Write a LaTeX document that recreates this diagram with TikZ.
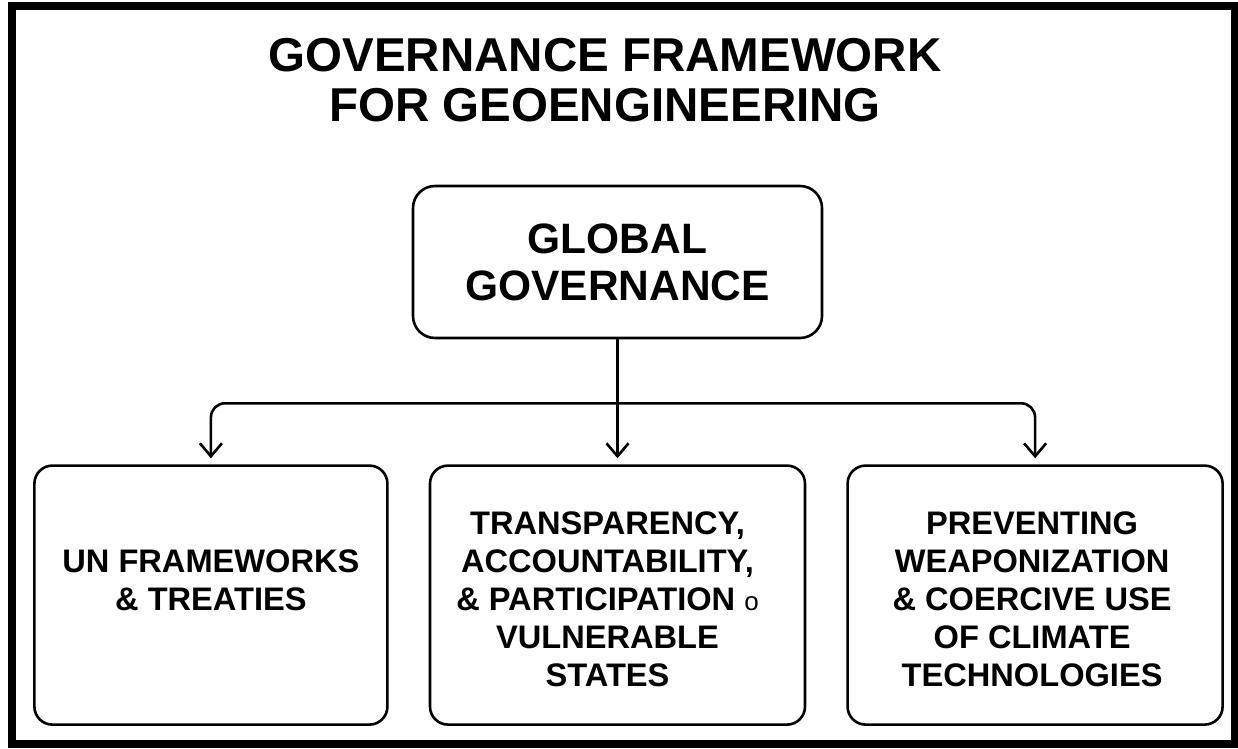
\documentclass[tikz,border=0pt]{standalone}
\usepackage{fontspec}
\setmainfont{Liberation Sans}
\usetikzlibrary{arrows.meta, calc, positioning}

\begin{document}
\begin{tikzpicture}[x=1pt, y=1pt, >={Straight Barb[length=13pt, width=22pt]},
	node distance=125pt and 40pt]
    \tikzstyle{box} = [draw, line width=2.6pt, rounded corners=18pt,
	minimum height=259pt, inner sep=0pt]
    \tikzstyle{boxtext} = [align=center, font=\fontsize{32.6}{38}\selectfont\bfseries]
    \tikzstyle{link} = [line width=2.6pt]

	\useasboundingbox (0,0) rectangle (1238,748);
	% frame round the page
	\draw[line width=8pt] (12,4) rectangle (1235,742);

	\node[align=center, font=\fontsize{47.5}{50}\selectfont\bfseries] (title) at (605,668)
		{GOVERNANCE FRAMEWORK\\FOR GEOENGINEERING};

	\node[box, rounded corners=22pt, minimum width=409pt, minimum height=152pt,
		align=center, font=\fontsize{42.5}{47}\selectfont\bfseries] (gg) at (617.5,486)
		{GLOBAL\\GOVERNANCE};

	% the three branches
	\node[box, minimum width=375pt, below=of gg] (tav) {};
	\node[box, minimum width=353pt, left=of tav] (un) {};
	\node[box, minimum width=375pt, right=of tav] (pr) {};

	\node[boxtext] (untext) at ($(un)+(0,15)$) {UN FRAMEWORKS\\\& TREATIES};
	\node[boxtext] (tavtext) at ($(tav)+(-10,-4)$)
		{TRANSPARENCY,\\ACCOUNTABILITY,\\\& PARTICIPATION {\mdseries\fontsize{26}{26}\selectfont o}\\VULNERABLE\\STATES};
	\node[boxtext] (prtext) at ($(pr)+(-3,-4)$)
		{PREVENTING\\WEAPONIZATION\\\& COERCIVE USE\\OF CLIMATE\\TECHNOLOGIES};

	\coordinate (split) at ($(gg.south)+(0,-64)$);
	\draw[link] (gg.south) -- (split);
	\draw[link, ->, shorten >=6pt] (split) -- (tav.north);
	\draw[link, ->, shorten >=6pt, rounded corners=14pt] (split) -| (un.north);
	\draw[link, ->, shorten >=6pt, rounded corners=14pt] (split) -| (pr.north);
\end{tikzpicture}
\end{document}
